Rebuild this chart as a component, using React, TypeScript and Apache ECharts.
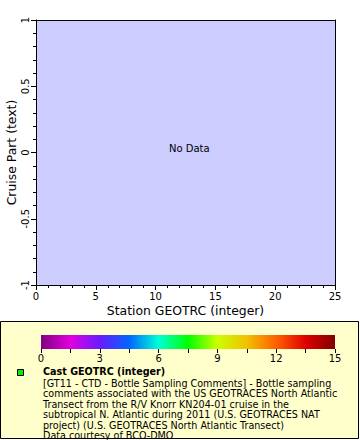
import React, { useEffect, useRef } from "react";
import * as echarts from "echarts";

// Data (the reference shows an empty plot: "No Data")
const stations: number[] = [];
const cruiseParts: number[] = [];
const xTicks = { min: 0, max: 25, interval: 5 };
const yTicks = { min: -1, max: 1, interval: 0.5 };
const colorbarRange = [0, 15];
const colorbarStops = [
  "#800080", "#e000e0", "#6a1aff", "#0066ff", "#00ffd8", "#00ff00",
  "#ccff00", "#f2c000", "#ff6000", "#e00000", "#800000",
];
const legendTitle = "Cast GEOTRC (integer)";
const legendLines = [
  "[GT11 - CTD - Bottle Sampling Comments] - Bottle sampling",
  "comments associated with the US GEOTRACES North Atlantic",
  "Transect from the R/V Knorr KN204-01 cruise in the",
  "subtropical N. Atlantic during 2011 (U.S. GEOTRACES NAT",
  "project) (U.S. GEOTRACES North Atlantic Transect)",
  "Data courtesy of BCO-DMO",
];

const FONT = "DejaVu Sans";

export default function App() {
  const ref = useRef<HTMLDivElement>(null);
  useEffect(() => {
    if (!ref.current) return;
    const chart = echarts.init(ref.current, undefined, { renderer: "svg" });
    const gradient = new echarts.graphic.LinearGradient(
      0, 0, 1, 0,
      colorbarStops.map((c, i) => ({ offset: i / (colorbarStops.length - 1), color: c }))
    );
    const option: any = {
      animation: false,
      backgroundColor: "#ffffff",
      textStyle: { fontFamily: FONT },
      grid: [
        { left: 36, top: 20, width: 299, height: 265, show: true, backgroundColor: "#ccccff", borderWidth: 0, containLabel: false, outerBoundsMode: "none" },
        { left: 41, top: 335, width: 294, height: 14, show: false, containLabel: false, outerBoundsMode: "none" },
      ],
      xAxis: [
        {
          gridIndex: 0, type: "value", min: xTicks.min, max: xTicks.max, interval: xTicks.interval,
          name: "Station GEOTRC (integer)", nameLocation: "middle", nameGap: 19, nameMoveOverlap: false,
          nameTextStyle: { fontFamily: FONT, fontSize: 12.4, color: "#000" },
          axisLine: { show: true, onZero: false, lineStyle: { color: "#000", width: 1 } },
          axisTick: { show: true, length: 5, lineStyle: { color: "#000" } },
          minorTick: { show: true, splitNumber: 5, length: 3, lineStyle: { color: "#000" } },
          axisLabel: { fontFamily: FONT, fontSize: 10, color: "#000", margin: 6 },
          splitLine: { show: false },
        },
        {
          gridIndex: 1, type: "value", min: colorbarRange[0], max: colorbarRange[1], interval: 3,
          axisLine: { show: false },
          axisTick: { show: true, length: 4, lineStyle: { color: "#000" } },
          minorTick: { show: true, splitNumber: 2, length: 4, lineStyle: { color: "#000" } },
          axisLabel: { fontFamily: FONT, fontSize: 10, color: "#000", margin: 4 },
          splitLine: { show: false },
        },
        {
          gridIndex: 0, type: "value", position: "top", min: xTicks.min, max: xTicks.max,
          axisLine: { show: true, onZero: false, lineStyle: { color: "#000" } },
          axisTick: { show: false }, axisLabel: { show: false }, splitLine: { show: false },
        },
      ],
      yAxis: [
        {
          gridIndex: 0, type: "value", min: yTicks.min, max: yTicks.max, interval: yTicks.interval,
          name: "Cruise Part (text)", nameLocation: "middle", nameGap: 18.5, nameMoveOverlap: false,
          nameTextStyle: { fontFamily: FONT, fontSize: 12.4, color: "#000" },
          axisLine: { show: true, onZero: false, lineStyle: { color: "#000", width: 1 } },
          axisTick: { show: true, length: 5, lineStyle: { color: "#000" } },
          minorTick: { show: true, splitNumber: 5, length: 3, lineStyle: { color: "#000" } },
          axisLabel: { fontFamily: FONT, fontSize: 10, color: "#000", rotate: 90, margin: 6 },
          splitLine: { show: false },
        },
        {
          gridIndex: 1, type: "value", min: 0, max: 1, show: false,
        },
        {
          gridIndex: 0, type: "value", position: "right", min: yTicks.min, max: yTicks.max,
          axisLine: { show: true, onZero: false, lineStyle: { color: "#000" } },
          axisTick: { show: false }, axisLabel: { show: false }, splitLine: { show: false },
        },
      ],
      series: [
        {
          type: "scatter", xAxisIndex: 0, yAxisIndex: 0,
          data: stations.map((s, i) => [s, cruiseParts[i]]),
        },
        {
          type: "custom", xAxisIndex: 1, yAxisIndex: 1,
          data: [[colorbarRange[0], colorbarRange[1]]],
          renderItem: (params: any, api: any) => {
            const p0 = api.coord([api.value(0), 1]);
            const p1 = api.coord([api.value(1), 0]);
            return {
              type: "rect",
              shape: { x: p0[0], y: p0[1], width: p1[0] - p0[0], height: p1[1] - p0[1] },
              style: { fill: gradient },
            };
          },
          silent: true,
        },
      ],
      graphic: [
        {
          type: "text", left: 169, top: 143, z: 10,
          style: { text: "No Data", font: `10px '${FONT}'`, fill: "#000" },
        },
        {
          type: "rect", left: 0, top: 321, z: -1,
          shape: { width: 358, height: 117 },
          style: { fill: "#ffffcc", stroke: "#000", lineWidth: 1 },
        },
        {
          type: "rect", left: 17, top: 369, z: 5,
          shape: { width: 6, height: 6 },
          style: { fill: "#00ee00", stroke: "#000", lineWidth: 1 },
        },
        {
          type: "text", left: 43, top: 366, z: 5,
          style: { text: legendTitle, font: `bold 9.6px '${FONT}'`, fill: "#000" },
        },
        {
          type: "text", left: 43, top: 378, z: 5,
          style: { text: legendLines.join("\n"), font: `9.6px '${FONT}'`, lineHeight: 10.5, fill: "#000" },
        },
      ],
    };
    chart.setOption(option);
    return () => chart.dispose();
  }, []);
  return (
    <div
      ref={ref}
      style={{ position: "fixed", left: 0, top: 0, width: 360, height: 440, background: "#fff" }}
    />
  );
}
